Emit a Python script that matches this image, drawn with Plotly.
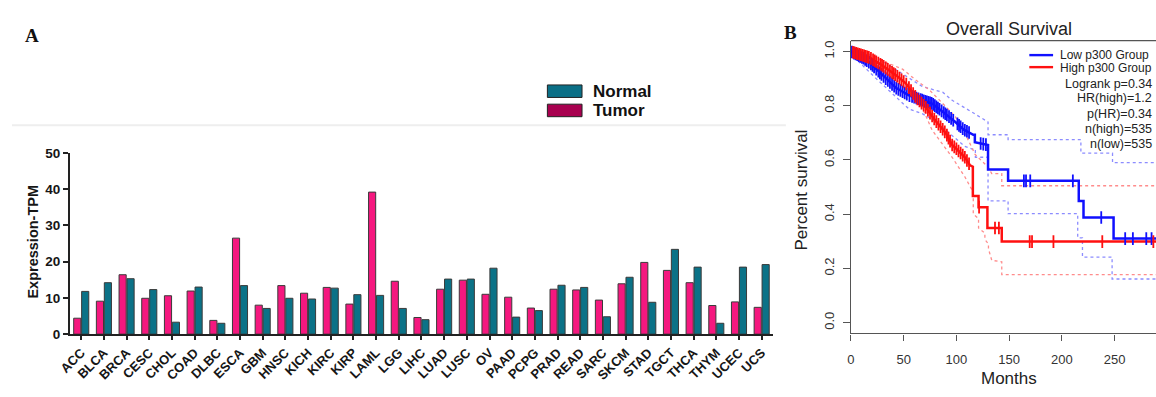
import numpy as np
import plotly.graph_objects as go

W, H = 1156, 397

# ---------------- Panel A: p300 expression across TCGA cancer types ----------------
cancer_types = ["ACC", "BLCA", "BRCA", "CESC", "CHOL", "COAD", "DLBC", "ESCA", "GBM",
                "HNSC", "KICH", "KIRC", "KIRP", "LAML", "LGG", "LIHC", "LUAD", "LUSC",
                "OV", "PAAD", "PCPG", "PRAD", "READ", "SARC", "SKCM", "STAD", "TGCT",
                "THCA", "THYM", "UCEC", "UCS"]
tumor_tpm = [4.4, 9.1, 16.4, 9.9, 10.6, 11.9, 3.8, 26.5, 8.0, 13.4, 11.3, 12.9, 8.3,
             39.2, 14.6, 4.6, 12.4, 14.9, 11.0, 10.2, 7.2, 12.4, 12.2, 9.4, 13.9,
             19.8, 17.6, 14.2, 7.9, 8.9, 7.4]
normal_tpm = [11.8, 14.2, 15.3, 12.3, 3.3, 13.0, 3.0, 13.4, 7.1, 9.9, 9.7, 12.7, 10.9,
              10.7, 7.1, 4.0, 15.2, 15.2, 18.2, 4.7, 6.5, 13.5, 12.9, 4.8, 15.7,
              8.8, 23.4, 18.5, 3.0, 18.5, 19.2]
tpm_ticks = [0, 10, 20, 30, 40, 50]

# ---------------- Panel B: Kaplan-Meier overall survival ----------------
low_t = [0, 5, 12, 18, 24, 33, 43, 55, 68, 77, 87, 93, 99, 107, 116, 117.5, 117.5,
         130, 130, 149, 149, 216, 216, 220.5, 220.5, 249, 249, 300]
low_s = [1.0, 0.99, 0.975, 0.958, 0.935, 0.90, 0.865, 0.838, 0.82, 0.808, 0.778, 0.76,
         0.74, 0.712, 0.693, 0.693, 0.665, 0.655, 0.565, 0.565, 0.523, 0.523, 0.449,
         0.449, 0.388, 0.388, 0.31, 0.31]
high_t = [0, 8, 18, 30, 43, 52, 62, 71, 80, 90, 96, 99, 108, 113, 115.6, 115.6,
          121, 121, 129.4, 129.4, 143, 143, 300]
high_s = [1.0, 0.99, 0.977, 0.948, 0.912, 0.883, 0.829, 0.794, 0.746, 0.699, 0.655,
          0.645, 0.61, 0.58, 0.575, 0.467, 0.467, 0.426, 0.426, 0.349, 0.349, 0.299, 0.299]

low_hi_t = [0, 10, 24, 40, 55, 68, 87, 96, 115, 129, 130, 130, 149, 149, 218, 218, 248, 248, 300]
low_hi_s = [1.0, 1.0, 0.98, 0.94, 0.90, 0.87, 0.85, 0.82, 0.776, 0.74, 0.74, 0.693, 0.693,
            0.675, 0.675, 0.625, 0.625, 0.59, 0.59]
low_lo_t = [0, 2, 24, 40, 55, 68, 77, 87, 96, 108, 115, 118, 118, 130, 130, 149, 149,
            215, 215, 219.5, 219.5, 247.6, 247.6, 300]
low_lo_s = [1.0, 0.983, 0.90, 0.841, 0.788, 0.77, 0.75, 0.72, 0.69, 0.65, 0.64, 0.64,
            0.61, 0.61, 0.449, 0.449, 0.402, 0.402, 0.313, 0.313, 0.242, 0.242, 0.161, 0.161]
high_hi_t = [0, 11.5, 30, 49, 61.5, 74, 86.6, 99, 108, 117.8, 130, 133.5, 143, 143, 300]
high_hi_s = [1.0, 0.995, 0.965, 0.935, 0.895, 0.86, 0.81, 0.76, 0.70, 0.62, 0.574, 0.55,
             0.55, 0.505, 0.505]
high_lo_t = [0, 2, 24, 40, 55, 68, 77, 96, 108, 114.7, 116, 116, 121, 121, 127, 127,
             130.4, 130.4, 133.5, 143, 143, 300]
high_lo_s = [1.0, 0.98, 0.945, 0.90, 0.85, 0.79, 0.71, 0.61, 0.538, 0.49, 0.467, 0.40,
             0.384, 0.349, 0.33, 0.307, 0.29, 0.272, 0.23, 0.224, 0.177, 0.177]

low_censor = [1, 3, 4.5, 6, 7.5, 9, 10.5, 12, 13.5, 15, 17, 19, 20.5, 22, 24, 26, 27.5,
              29, 31, 33, 35, 37, 39, 41, 43, 45, 47, 49, 51, 53, 55.5, 58, 60, 62,
              64, 66, 67.5, 69, 70.5, 72, 73.5, 75, 76.5, 78, 79.5, 81, 82.5, 84, 86,
              88, 89.5, 91, 93, 95, 97, 101, 102.5, 104, 106, 108, 110, 112, 123,
              125.5, 128, 164, 166, 170, 210.4, 237.3, 260, 267.3, 280, 285]
high_censor = [2, 3.5, 5, 6.5, 8, 9.5, 11, 12.5, 14, 15.5, 17, 19, 21, 22.5, 24, 26,
               28, 29.5, 31, 33, 35, 37, 39, 40.5, 42, 44, 46, 48, 50, 52.5, 55, 57,
               59, 61, 63, 65, 67, 69, 71, 73, 75, 77, 79, 81, 83, 85, 87, 89, 91,
               92.5, 94, 96, 98, 100, 102, 104, 106, 108, 110, 112, 121.5, 136.6,
               140.3, 169.5, 171.7, 192, 238.3, 286.7]
month_ticks = [0, 50, 100, 150, 200, 250]
surv_ticks = [0.0, 0.2, 0.4, 0.6, 0.8, 1.0]
stats_lines = ["Logrank p=0.34", "HR(high)=1.2", "p(HR)=0.34", "n(high)=535", "n(low)=535"]

TUMOR_C = "#f5187f"
NORMAL_C = "#0b7287"
BLUE = "#1010ff"
RED = "#ff1010"


def px_x(p):
    return p / W


def px_y(p):
    return (H - p) / H


fig = go.Figure()

# grouped bars (tumor left, normal right)
fig.add_trace(go.Bar(x=cancer_types, y=tumor_tpm, name="Tumor", marker_color=TUMOR_C,
                     marker_line=dict(color="#3a3a3a", width=1), xaxis="x", yaxis="y",
                     showlegend=False))
fig.add_trace(go.Bar(x=cancer_types, y=normal_tpm, name="Normal", marker_color=NORMAL_C,
                     marker_line=dict(color="#3a3a3a", width=1), xaxis="x", yaxis="y",
                     showlegend=False))

# confidence bands (dotted)
for t, s, c in [(low_hi_t, low_hi_s, "#8c8cff"), (low_lo_t, low_lo_s, "#8c8cff"),
                (high_hi_t, high_hi_s, "#ff8c8c"), (high_lo_t, high_lo_s, "#ff8c8c")]:
    fig.add_trace(go.Scatter(x=t, y=s, mode="lines", xaxis="x2", yaxis="y2",
                             line=dict(color=c, width=1.3, dash="dot"),
                             showlegend=False, hoverinfo="skip"))

# survival curves
fig.add_trace(go.Scatter(x=low_t, y=low_s, mode="lines", xaxis="x2", yaxis="y2",
                         line=dict(color=BLUE, width=2.5), showlegend=False))
fig.add_trace(go.Scatter(x=high_t, y=high_s, mode="lines", xaxis="x2", yaxis="y2",
                         line=dict(color=RED, width=2.5), showlegend=False))

# censoring ticks placed on their curves
for cens, tt, ss, col in [(low_censor, low_t, low_s, BLUE),
                          (high_censor, high_t, high_s, RED)]:
    fig.add_trace(go.Scatter(x=cens, y=np.interp(cens, tt, ss),
                             mode="markers", xaxis="x2", yaxis="y2", showlegend=False,
                             marker=dict(symbol="line-ns", size=9, color=col,
                                         line=dict(color=col, width=1.8))))

bold_x = dict(family="Arial", size=13, color="#161616", weight="bold")
bold_y = dict(family="Arial", size=13.5, color="#161616", weight="bold")
reg = dict(family="Arial", size=13, color="#333333")

shapes = [
    # panel A frame top edge
    dict(type="line", xref="paper", yref="paper", x0=0, x1=px_x(782), y0=px_y(123),
         y1=px_y(123), line=dict(color="#eeeeee", width=2), layer="below"),
    # legend swatches for panel A
    dict(type="rect", xref="paper", yref="paper", x0=px_x(541), x1=px_x(576),
         y0=px_y(94), y1=px_y(81), fillcolor="#0b6f86", line=dict(color="#222", width=1)),
    dict(type="rect", xref="paper", yref="paper", x0=px_x(541), x1=px_x(576),
         y0=px_y(114), y1=px_y(101), fillcolor="#a8004f", line=dict(color="#222", width=1)),
    # top edge of survival plot box
    dict(type="line", xref="paper", yref="paper", x0=px_x(847.7), x1=1.0, y0=px_y(35),
         y1=px_y(35), line=dict(color="#555555", width=1.3)),
    # legend lines for panel B
    dict(type="line", xref="paper", yref="paper", x0=px_x(1028), x1=px_x(1052),
         y0=px_y(50), y1=px_y(50), line=dict(color=BLUE, width=2.4)),
    dict(type="line", xref="paper", yref="paper", x0=px_x(1028), x1=px_x(1052),
         y0=px_y(62.5), y1=px_y(62.5), line=dict(color=RED, width=2.4)),
]

annotations = [
    dict(text="<b>A</b>", x=px_x(11), y=px_y(30), xanchor="left", yanchor="middle",
         font=dict(family="Times New Roman, Liberation Serif", size=19, color="#111")),
    dict(text="<b>B</b>", x=px_x(778), y=px_y(27), xanchor="left", yanchor="middle",
         font=dict(family="Times New Roman, Liberation Serif", size=19, color="#111")),
    dict(text="Normal", x=px_x(585), y=px_y(88), xanchor="left", yanchor="middle",
         font=dict(family="Arial", size=17, color="#111", weight="bold")),
    dict(text="Tumor", x=px_x(585), y=px_y(107.5), xanchor="left", yanchor="middle",
         font=dict(family="Arial", size=17, color="#111", weight="bold")),
    dict(text="Expression-TPM", x=px_x(21), y=px_y(244), textangle=-90,
         xanchor="center", yanchor="middle",
         font=dict(family="Arial", size=14.5, color="#161616", weight="bold")),
    dict(text="Overall Survival", x=px_x(1007), y=px_y(23), xanchor="center",
         yanchor="middle", font=dict(family="Arial", size=18, color="#222")),
    dict(text="Months", x=px_x(1007), y=px_y(386), xanchor="center", yanchor="middle",
         font=dict(family="Arial", size=17, color="#222")),
    dict(text="Percent survival", x=px_x(798), y=px_y(190), textangle=-90,
         xanchor="center", yanchor="middle", font=dict(family="Arial", size=17, color="#222")),
    dict(text="Low p300 Group", x=px_x(1057), y=px_y(49.5), xanchor="left",
         yanchor="middle", font=dict(family="Arial", size=12, color="#222")),
    dict(text="High p300 Group", x=px_x(1057), y=px_y(63), xanchor="left",
         yanchor="middle", font=dict(family="Arial", size=12, color="#222")),
]
for txt, yy in zip(stats_lines, [80, 95, 111, 126.5, 142]):
    annotations.append(dict(text=txt, x=px_x(1154), y=px_y(yy), xanchor="right",
                            yanchor="middle", font=dict(family="Arial", size=12.5, color="#222")))
for a in annotations:
    a.update(xref="paper", yref="paper", showarrow=False)

fig.update_layout(
    width=W, height=H, margin=dict(l=0, r=0, t=0, b=0),
    paper_bgcolor="white", plot_bgcolor="rgba(0,0,0,0)",
    barmode="group", bargap=0.3, bargroupgap=0.1,
    xaxis=dict(domain=[px_x(58.5), px_x(769)], anchor="y", type="category",
               range=[-0.5, len(cancer_types) - 0.5],
               tickangle=-45, tickfont=bold_x, ticks="outside", ticklen=4, tickwidth=1.5,
               tickcolor="#222", showline=True, linecolor="#222", linewidth=1.8,
               showgrid=False, zeroline=False),
    yaxis=dict(domain=[px_y(340), px_y(151.7)], anchor="x", range=[0, 50],
               tickvals=tpm_ticks, tickfont=bold_y, ticks="outside", ticklen=5,
               tickwidth=1.5, tickcolor="#222", showline=True, linecolor="#222",
               linewidth=1.8, showgrid=False, zeroline=False),
    xaxis2=dict(domain=[px_x(847.7), 1.0], anchor="y2",
                range=[0, (W - 847.7) / 1.066], tickvals=month_ticks, tickfont=reg,
                ticks="outside", ticklen=6, tickwidth=1.2, tickcolor="#555",
                ticklabelstandoff=8,
                showline=True, linecolor="#555", linewidth=1.3, showgrid=False,
                zeroline=False),
    yaxis2=dict(domain=[px_y(339.3), px_y(35)], anchor="x2", range=[-0.04, 1.04],
                tickvals=surv_ticks, ticktext=[f"{v:.1f}" for v in surv_ticks],
                tickangle=-90, tickfont=reg, ticks="outside", ticklen=7, tickwidth=1.2,
                ticklabelstandoff=4,
                tickcolor="#555", showline=True, linecolor="#555", linewidth=1.3,
                showgrid=False, zeroline=False),
    shapes=shapes, annotations=annotations,
)

fig.write_html("out.html")
